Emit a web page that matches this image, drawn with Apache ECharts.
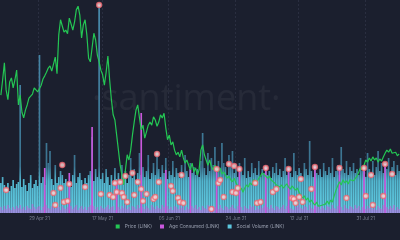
<!DOCTYPE html>
<html>
<head>
<meta charset="utf-8">
<script src="https://cdn.jsdelivr.net/npm/echarts@6/dist/echarts.min.js"></script>
<style>
html,body{margin:0;padding:0;background:#1b1f2e;}
#c{width:400px;height:240px;}
</style>
</head>
<body>
<div id="c"></div>
<script>
// 12-hour steps starting 18 Apr 2021
var startDate = '2021-04-18T00:00:00Z';
var stepCount = 228;
var tickLabels = ['29 Apr 21','17 May 21','05 Jun 21','24 Jun 21','12 Jul 21','31 Jul 21'];

var priceLINK = [
35.7,38.6,41.9,36.7,34.8,38.2,39.0,37.1,38.6,40.5,
33.8,35.7,32.4,31.3,32.8,33.8,35.1,35.5,35.9,37.1,
36.7,36.3,36.5,37.6,38.8,39.4,40.1,40.9,41.3,40.3,
40.5,43.0,39.8,47.3,50.2,49.0,47.8,48.2,47.5,50.5,
49.4,48.2,49.8,52.1,52.8,51.1,46.7,49.2,50.2,47.3,
42.8,42.1,44.8,47.6,46.3,43.4,42.1,40.5,39.6,37.6,
40.1,43.2,38.6,34.8,31.9,30.9,28.0,25.1,22.2,20.3,
18.4,21.3,24.2,23.2,25.1,28.0,30.5,32.8,33.8,31.3,
29.0,29.9,27.4,28.6,29.9,30.5,29.9,31.5,30.9,29.7,
30.5,31.9,31.3,32.2,29.4,27.1,28.0,26.1,26.7,25.1,
24.2,24.7,23.8,25.1,23.6,22.6,23.2,22.2,21.3,22.6,
20.9,21.7,20.3,21.3,25.1,26.1,24.2,23.2,22.2,23.2,
21.9,21.3,22.2,21.3,20.9,21.7,20.5,20.9,20.3,19.7,
20.1,19.4,19.0,19.7,18.8,18.2,17.4,17.8,17.0,17.8,
18.4,18.0,18.8,18.4,19.4,19.5,19.0,19.7,20.1,20.7,
20.9,20.1,19.7,20.1,19.4,19.7,18.8,18.4,18.6,18.0,
18.4,17.8,18.2,18.6,18.0,17.6,18.2,17.8,17.4,17.8,
17.0,16.3,15.9,16.3,15.5,15.9,15.1,15.5,14.9,14.5,
15.1,14.3,14.0,14.5,14.2,14.7,15.3,14.7,15.5,15.1,
16.3,17.4,18.2,19.0,18.4,19.4,18.8,19.2,18.6,19.4,
19.7,19.2,19.5,20.1,20.9,21.7,21.3,22.2,23.2,22.8,
23.6,23.0,23.8,23.2,23.6,22.8,23.4,23.0,23.8,24.5,
25.1,24.7,25.3,24.5,24.2,24.7,24.0,24.4
];

var ageConsumedLINK = [
0.3,0.15,0.35,0.2,0.4,0.25,0.15,0.3,0.2,0.35,
0.25,0.4,0.2,0.3,0.15,0.35,0.25,0.2,0.45,0.3,
0.2,0.3,0.35,0.15,0.3,2.25,0.4,0.25,0.2,0.35,
0.3,0.2,0.4,0.3,0.15,0.35,0.25,0.2,0.3,2.0,
0.35,0.2,0.3,0.4,0.15,0.25,0.35,0.2,0.3,0.15,
0.3,0.4,4.3,0.35,0.2,0.3,0.15,0.35,0.25,0.2,
0.3,0.4,0.2,0.3,0.35,0.15,1.6,0.3,0.2,0.35,
0.25,0.4,0.2,0.3,0.15,0.35,0.3,0.2,0.4,0.25,
5.0,0.3,0.2,0.35,0.25,0.15,0.4,0.3,0.2,0.35,
0.25,0.2,0.4,0.3,2.15,0.35,0.2,0.3,0.15,0.35,
0.3,0.2,0.4,0.25,0.35,0.15,0.3,0.2,2.2,0.35,
0.25,0.4,0.2,0.3,0.15,0.35,0.25,0.2,0.4,0.3,
0.2,0.35,0.3,2.2,0.2,0.4,0.25,0.15,0.35,0.3,
0.2,0.3,0.4,0.25,0.2,0.35,2.2,0.3,0.15,0.35,
0.25,0.2,0.4,0.3,0.35,0.15,0.3,0.2,0.4,0.25,
0.35,2.25,0.3,0.2,0.4,0.25,0.15,0.35,0.3,0.2,
0.3,0.4,0.2,0.35,2.2,0.25,0.2,0.15,0.35,0.3,
0.4,0.25,0.2,0.35,0.3,0.15,0.4,0.25,0.2,2.3,
0.3,0.35,0.2,0.4,0.25,0.15,0.35,0.3,0.2,0.4,
0.25,0.2,0.35,2.25,0.3,0.15,0.4,0.25,0.2,0.35,
0.3,0.2,0.4,0.25,0.35,0.15,0.3,2.25,0.2,0.35,
0.25,0.4,0.2,0.3,0.15,0.35,0.25,0.2,0.4,2.45,
0.3,0.2,0.35,0.25,0.4,0.15,0.3,0.2
];

var socialVolumeLINK = [
150,180,140,120,150,110,135,165,125,145,
155,640,130,170,140,110,150,190,125,145,
165,135,790,150,180,140,350,250,310,170,
140,240,150,180,210,190,150,170,140,160,
130,190,290,150,180,200,165,140,175,150,
190,210,380,160,220,180,1040,170,200,150,
220,180,140,190,150,225,170,200,160,240,
180,210,150,190,275,175,220,165,200,300,
190,230,180,210,290,170,200,250,190,310,
220,180,240,200,275,170,210,190,260,180,
225,200,175,240,190,290,210,180,250,200,
230,190,220,180,260,400,225,190,300,210,
275,240,330,200,260,220,350,250,230,190,
290,240,310,200,225,180,250,210,190,275,
175,210,180,250,200,225,190,260,180,220,
200,240,190,210,175,230,200,250,190,220,
180,210,275,190,230,200,180,300,210,190,
225,200,180,250,220,190,360,210,180,240,
200,190,220,180,250,210,190,230,200,275,
180,210,240,190,330,220,200,260,190,230,
210,250,200,220,190,275,210,240,180,300,
220,200,260,190,230,310,210,250,200,240,
220,275,200,230,260,190,240,210
];

// highlighted age-consumed points (category index, value)
var markerIndex = [3,30,31,34,35,36,38,39,48,56,57,62,64,65,66,68,69,70,71,72,75,76,78,80,81,83,87,88,89,90,97,98,101,102,103,104,
120,123,124,125,127,130,132,133,134,135,136,145,146,148,151,155,157,164,166,167,168,170,171,172,177,179,193,197,207,208,211,212,218,219,223];
var markerValue = [1.15,1.0,0.4,1.25,2.4,0.55,0.6,1.45,1.3,10.4,0.95,0.9,0.8,1.5,1.05,1.55,1.0,0.8,1.85,0.55,2.0,0.9,1.55,1.2,0.6,0.95,0.7,0.8,2.95,1.55,1.35,1.1,0.75,0.55,1.9,0.5,
0.2,2.2,1.5,1.65,0.8,2.45,1.05,2.35,1.0,1.25,2.2,1.5,0.5,0.55,2.25,1.05,1.2,2.2,0.75,0.7,0.5,0.8,1.7,0.55,1.2,2.3,2.25,0.75,2.25,0.85,1.9,0.4,0.85,2.45,1.95];

var months = ['Jan','Feb','Mar','Apr','May','Jun','Jul','Aug','Sep','Oct','Nov','Dec'];
var categories = [];
var t0 = Date.parse(startDate);
for (var i = 0; i < stepCount; i++) {
  var d = new Date(t0 + i * 12 * 3600 * 1000);
  var dd = d.getUTCDate();
  categories.push((dd < 10 ? '0' + dd : '' + dd) + ' ' + months[d.getUTCMonth()] + ' 21');
}
var tickSet = {};
tickLabels.forEach(function (l) { tickSet[categories.indexOf(l)] = true; });
var markers = markerIndex.map(function (ix, k) { return [ix, markerValue[k]]; });

var chart = echarts.init(document.getElementById('c'), null, {renderer: 'canvas'});
chart.setOption({
  backgroundColor: '#1b1f2e',
  animation: false,
  graphic: [{
    type: 'text', left: 92, top: 82, z: 0, silent: true,
    style: { text: '·santiment·', fill: 'rgba(255,255,255,0.05)', font: '36px "Open Sans"' }
  }],
  legend: {
    bottom: 6, left: 'center', itemWidth: 4, itemHeight: 4, itemGap: 8, icon: 'rect',
    textStyle: { color: '#9aa0b0', fontSize: 4.8, fontFamily: 'Inter' },
    data: [
      { name: 'Price (LINK)', itemStyle: { color: '#24c654' } },
      { name: 'Age Consumed (LINK)', itemStyle: { color: '#c958dc' } },
      { name: 'Social Volume (LINK)', itemStyle: { color: '#5cc6dd' } }
    ]
  },
  grid: { left: 0, right: 0, top: 0, bottom: 27 },
  xAxis: {
    type: 'category', data: categories, boundaryGap: true,
    axisLine: { show: false },
    axisTick: { show: false },
    axisLabel: {
      interval: function (idx) { return !!tickSet[idx]; },
      color: '#7a8092', fontSize: 4.6, fontFamily: 'Inter', margin: 3
    },
    splitLine: {
      show: true, interval: function (idx) { return !!tickSet[idx]; },
      lineStyle: { color: '#2a2e40', type: [2, 2], width: 1 }
    }
  },
  yAxis: [
    { type: 'value', min: 13, max: 54, show: false, splitLine: { show: false } },
    { type: 'value', min: 0, max: 1065, show: false, splitLine: { show: false } },
    { type: 'value', min: 0, max: 10.65, show: false, splitLine: { show: false } }
  ],
  series: [
    {
      name: 'Social Volume (LINK)', type: 'bar', yAxisIndex: 1, data: socialVolumeLINK,
      barCategoryGap: '5%', barGap: '-100%', z: 2,
      itemStyle: {
        color: new echarts.graphic.LinearGradient(0, 0, 0, 213, [
          { offset: 0, color: '#4a8fb2' },
          { offset: 0.78, color: '#3b7390' },
          { offset: 0.85, color: '#52b6cf' },
          { offset: 1, color: '#62cde3' }
        ], true)
      }
    },
    {
      name: 'Age Consumed (LINK)', type: 'bar', yAxisIndex: 2, data: ageConsumedLINK,
      barCategoryGap: '5%', barGap: '-100%', z: 3,
      itemStyle: {
        color: function (p) { return p.value > 1 ? '#c958dc' : 'rgba(201,93,220,0.55)'; }
      }
    },
    {
      name: 'Price (LINK)', type: 'line', yAxisIndex: 0, data: priceLINK, z: 4,
      symbol: 'none', lineStyle: { color: '#24c654', width: 1.2 }, itemStyle: { color: '#24c654' }
    },
    {
      name: 'markers', type: 'scatter', yAxisIndex: 2, data: markers, z: 5,
      symbol: 'circle', symbolSize: 5,
      itemStyle: { color: '#ffd9d9', borderColor: '#ee6670', borderWidth: 1.3 }
    }
  ]
});
</script>
</body>
</html>
